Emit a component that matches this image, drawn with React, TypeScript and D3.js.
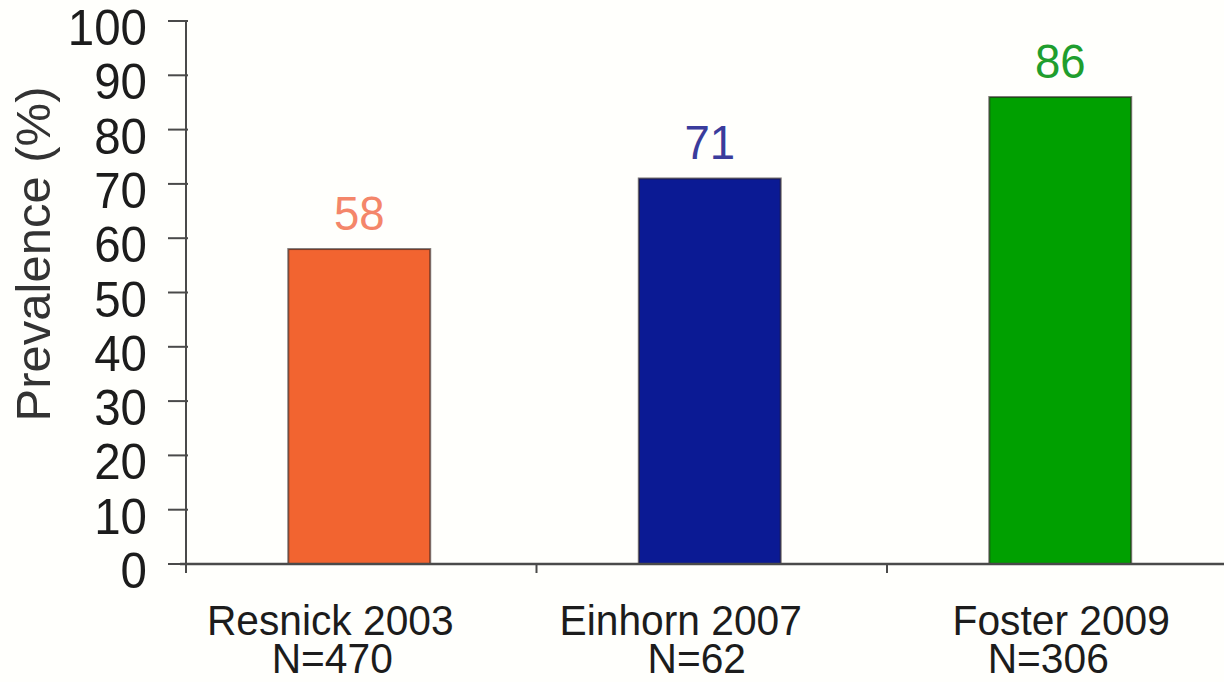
import React from "react";
import * as d3 from "d3";

const categories = ["Resnick 2003", "Einhorn 2007", "Foster 2009"];
const sampleSizes = ["N=470", "N=62", "N=306"];
const values = [58, 71, 86];
const barColors = ["#F26430", "#0B1A94", "#00A000"];
const labelColors = ["#F4866A", "#3A3C9C", "#1F9E2E"];
const yTicks = [0, 10, 20, 30, 40, 50, 60, 70, 80, 90, 100];
const yTitle = "Prevalence (%)";

const W = 1224;
const H = 682;
// horizontal nudges of the two-line category labels (layout only)
const line1Nudge = [-31, -31, -1];
const line2Nudge = [-29, -15, -14];

export default function App() {
  const x = d3
    .scaleBand<string>()
    .domain(categories)
    .range([186, 1237.5])
    .paddingInner(0.595)
    .paddingOuter(0.2975);
  const y = d3.scaleLinear().domain([0, 100]).range([564, 21]);
  const font = "'Liberation Sans', Arial, sans-serif";
  const axisColor = "#4a4a4a";
  const bandEdges = categories.map((c) => (x(c) as number) - (x.step() - x.bandwidth()) / 2);
  bandEdges.push(bandEdges[bandEdges.length - 1] + x.step());

  return (
    <svg
      width={W}
      height={H}
      style={{ position: "absolute", left: 0, top: 0, background: "#fffffc" }}
      fontFamily={font}
    >
      <rect x={0} y={0} width={W} height={H} fill="#fffffc" />
      {/* bars */}
      {values.map((v, i) => (
        <rect
          key={categories[i]}
          x={(x(categories[i]) as number) - 2}
          y={y(v)}
          width={x.bandwidth()}
          height={y(0) - y(v)}
          fill={barColors[i]}
          stroke="rgba(40,30,30,0.6)"
          strokeWidth={2}
        />
      ))}
      {/* value labels */}
      {values.map((v, i) => (
        <g
          key={"vl" + i}
          transform={`translate(${(x(categories[i]) as number) + x.bandwidth() / 2 - 2},${y(v) - 19}) scale(0.95,1)`}
        >
          <text textAnchor="middle" fontSize={48} fill={labelColors[i]}>
            {v}
          </text>
        </g>
      ))}
      {/* y axis */}
      <line x1={186} x2={186} y1={y(100)} y2={y(0)} stroke={axisColor} strokeWidth={2} />
      {yTicks.map((t) => (
        <g key={"yt" + t}>
          <line x1={168} x2={188} y1={y(t)} y2={y(t)} stroke={axisColor} strokeWidth={2} />
          <g transform={`translate(147,${y(t) + 24}) scale(0.95,1)`}>
            <text textAnchor="end" fontSize={50} fill="#1c1c1c">
              {t}
            </text>
          </g>
        </g>
      ))}
      {/* x axis */}
      <line x1={180} x2={W} y1={y(0)} y2={y(0)} stroke={axisColor} strokeWidth={2.5} />
      {bandEdges.map((bx, i) => (
        <line key={"xt" + i} x1={bx} x2={bx} y1={y(0)} y2={y(0) + 9} stroke={axisColor} strokeWidth={2} />
      ))}
      {/* category labels */}
      {categories.map((c, i) => {
        const cx = (x(c) as number) + x.bandwidth() / 2;
        return (
          <g key={"cl" + i}>
            <g transform={`translate(${cx + line1Nudge[i]},635) scale(0.97,1)`}>
              <text x={0} y={0} textAnchor="middle" fontSize={42} fill="#1c1c1c">
                {c}
              </text>
            </g>
            <g transform={`translate(${cx + line2Nudge[i]},673) scale(0.97,1)`}>
              <text x={0} y={0} textAnchor="middle" fontSize={42} fill="#1c1c1c">
                {sampleSizes[i]}
              </text>
            </g>
          </g>
        );
      })}
      {/* y title */}
      <text
        transform={`translate(50,${254}) rotate(-90)`}
        textAnchor="middle"
        fontSize={49}
        fill="#333"
      >
        {yTitle}
      </text>
    </svg>
  );
}
